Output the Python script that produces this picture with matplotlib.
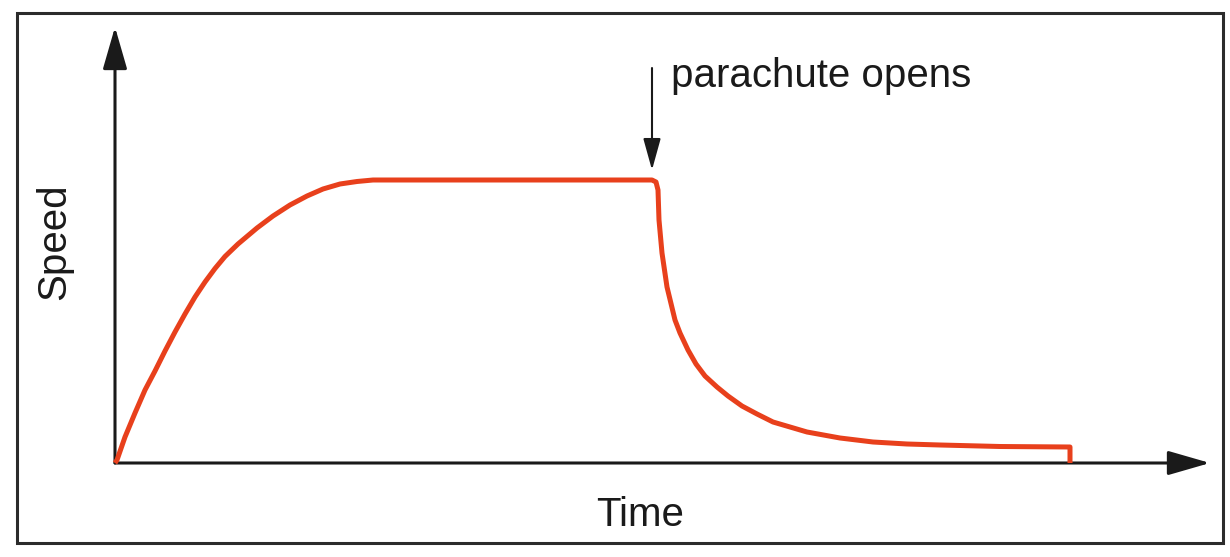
import matplotlib
matplotlib.use("Agg")
import matplotlib.pyplot as plt

plt.rcParams['font.family'] = ['Liberation Sans', 'DejaVu Sans']

# speed of a skydiver (arbitrary units)
tempo = [0.0, 0.2, 1.0, 2.0, 3.0, 4.0, 5.0, 6.0, 7.0, 8.0, 9.0, 10.0, 11.0,
         12.3, 14.2, 15.8, 17.5, 19.2, 20.8, 22.5, 24.2, 25.8, 53.7,
         54.1, 54.3, 54.4, 54.7, 55.2, 56.0, 56.5, 57.3, 58.1, 59.0, 60.2, 61.3,
         62.7, 64.2, 65.8, 69.2, 72.5, 75.8, 79.2, 82.5, 88.5, 95.5, 95.5]
velocidade = [0.0, 0.3, 2.6, 5.0, 7.3, 9.2, 11.2, 13.1, 14.9, 16.6, 18.1, 19.45, 20.65,
              21.9, 23.5, 24.7, 25.8, 26.7, 27.4, 27.9, 28.15, 28.3, 28.3,
              28.1, 27.3, 24.3, 21.0, 17.6, 14.3, 13.0, 11.3, 9.9, 8.7, 7.6, 6.7,
              5.7, 4.9, 4.1, 3.1, 2.5, 2.1, 1.9, 1.8, 1.65, 1.6, 0.0]

t_abre = 53.7          # parachute opens
rotulo_x = 'Time'
rotulo_y = 'Speed'
nota = 'parachute opens'

fig = plt.figure(figsize=(12.3, 5.57), dpi=100)
ax = fig.add_axes([0, 0, 1, 1])
ax.set_xlim(-11.5, 111.5)
ax.set_ylim(-9.4, 46.3)
ax.axis('off')

# moldura
ax.add_patch(plt.Rectangle((0.0138, 0.0251), 0.9805, 0.9515, transform=ax.transAxes,
                           fill=False, lw=2.2, ec='#2b2b2b'))

# eixos com setas
seta = dict(arrowstyle='-|>,head_length=2.6,head_width=0.75', mutation_scale=10,
            lw=2.2, color='#1a1a1a', shrinkA=0, shrinkB=0)
ax.annotate('', xy=(0, 43.6), xytext=(0, 0), arrowprops=seta)
ax.annotate('', xy=(109.5, 0), xytext=(0, 0), arrowprops=seta)

# curva
ax.plot(tempo, velocidade, color='#e8401c', lw=3.6, solid_joinstyle='round',
        solid_capstyle='butt', zorder=3)

# nota
ax.annotate('', xy=(t_abre, 29.3), xytext=(t_abre, 39.5),
            arrowprops=dict(arrowstyle='-|>,head_length=1.95,head_width=0.54',
                            mutation_scale=10, lw=1.5, color='#1a1a1a',
                            shrinkA=0, shrinkB=0))
ax.text(55.6, 37.6, nota, fontsize=29, va='baseline', ha='left', color='#1a1a1a')

ax.text(52.5, -6.3, rotulo_x, fontsize=29, va='baseline', ha='center', color='#1a1a1a')
ax.text(-6.1, 22.1, rotulo_y, fontsize=29, va='center', ha='center', rotation=90,
        color='#1a1a1a')

fig.savefig('out.png', dpi=100)
